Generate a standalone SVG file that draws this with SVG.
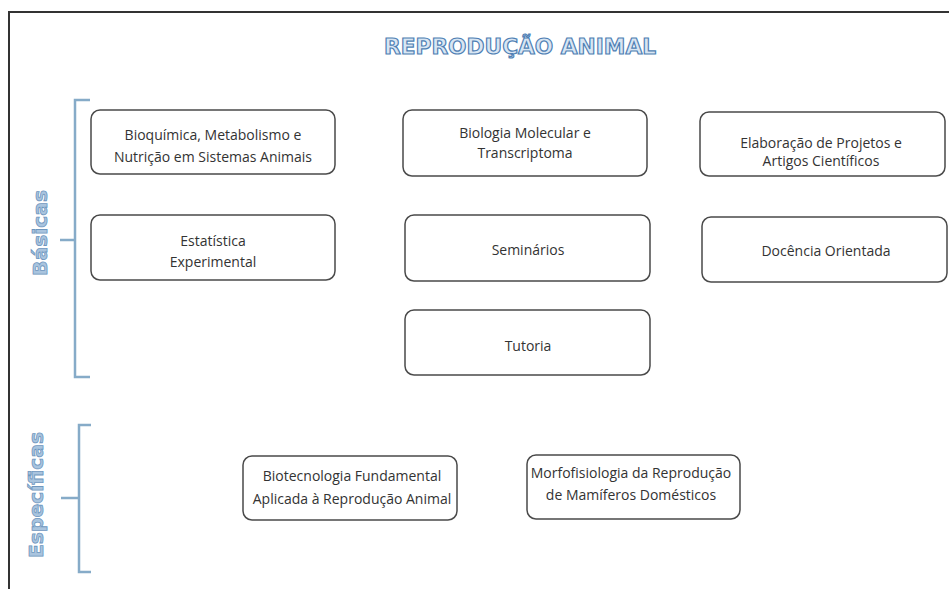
<svg xmlns="http://www.w3.org/2000/svg" width="949" height="589" viewBox="0 0 949 589">
<style>
.box{fill:#fff;stroke:#4a4a4a;stroke-width:1.5}
.t{font-family:"Open Sans","Noto Sans","DejaVu Sans",sans-serif;font-size:14px;fill:#333;text-anchor:middle}
.br{fill:none;stroke:#86abc8;stroke-width:2.5}
.lab{font-family:"DejaVu Sans","Liberation Sans",sans-serif;font-weight:bold;font-size:20px;fill:#a9c4de;stroke:#6f97bf;stroke-width:0.8;text-anchor:middle}
.title{font-family:"DejaVu Sans","Liberation Sans",sans-serif;font-weight:bold;font-size:22px;fill:#d8e6f3;stroke:#4f7fb4;stroke-width:1.2;text-anchor:middle}
</style>
<rect width="949" height="589" fill="#fff"/>
<path d="M9 589 V12 H949" fill="none" stroke="#333" stroke-width="2"/>
<text class="title" x="520" y="54" textLength="272" lengthAdjust="spacingAndGlyphs">REPRODUÇÃO ANIMAL</text>
<g id="connectors">
<path class="br" d="M90 100 H75 V377 H90 M60 240 H75"/>
<path class="br" d="M91 425 H79 V572 H91 M61 498 H79"/>
</g>
<g id="label-basicas"><text class="lab" transform="translate(47 233) rotate(-90)" textLength="86" lengthAdjust="spacingAndGlyphs">Básicas</text></g>
<g id="label-especificas"><text class="lab" transform="translate(43 495) rotate(-90)" textLength="126" lengthAdjust="spacingAndGlyphs">Específicas</text></g>
<g id="n1"><rect class="box" x="91" y="110" width="244" height="64" rx="9"/><text class="t" x="213" y="140">Bioquímica, Metabolismo e</text><text class="t" x="213" y="162">Nutrição em Sistemas Animais</text></g>
<g id="n2"><rect class="box" x="91" y="215" width="244" height="65" rx="9"/><text class="t" x="213" y="246">Estatística</text><text class="t" x="213" y="267">Experimental</text></g>
<g id="n3"><rect class="box" x="403" y="110" width="244" height="66" rx="9"/><text class="t" x="525" y="138">Biologia Molecular e</text><text class="t" x="525" y="158">Transcriptoma</text></g>
<g id="n4"><rect class="box" x="405" y="215" width="245" height="66" rx="9"/><text class="t" x="528" y="255">Seminários</text></g>
<g id="n5"><rect class="box" x="405" y="310" width="245" height="65" rx="9"/><text class="t" x="528" y="351">Tutoria</text></g>
<g id="n6"><rect class="box" x="700" y="112" width="245" height="64" rx="9"/><text class="t" x="821" y="148">Elaboração de Projetos e</text><text class="t" x="821" y="166">Artigos Científicos</text></g>
<g id="n7"><rect class="box" x="702" y="217" width="245" height="65" rx="9"/><text class="t" x="826" y="256">Docência Orientada</text></g>
<g id="n8"><rect class="box" x="243" y="456" width="214" height="64" rx="9"/><text class="t" x="352" y="481">Biotecnologia Fundamental</text><text class="t" x="352" y="504">Aplicada à Reprodução Animal</text></g>
<g id="n9"><rect class="box" x="527" y="455" width="213" height="64" rx="9"/><text class="t" x="631" y="478">Morfofisiologia da Reprodução</text><text class="t" x="631" y="500">de Mamíferos Domésticos</text></g>
</svg>
